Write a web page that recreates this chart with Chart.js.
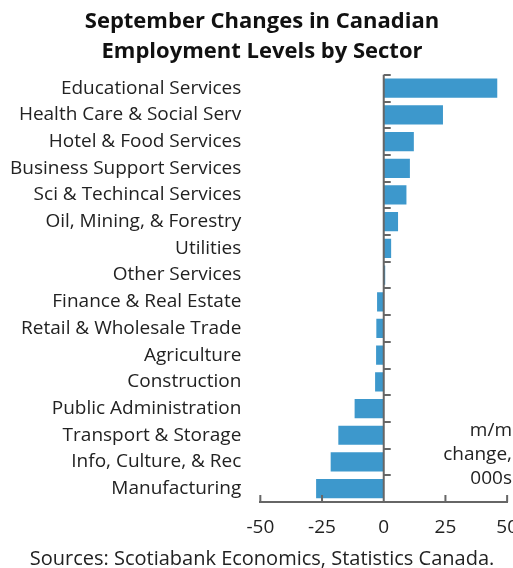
<!DOCTYPE html>
<html>
<head>
<meta charset="utf-8">
<script src="https://cdn.jsdelivr.net/npm/chart.js"></script>
<style>
  html, body { margin: 0; padding: 0; background: #fff; overflow: hidden; }
  #wrap { width: 533px; height: 568px; }
</style>
</head>
<body>
<div id="wrap"><canvas id="chart"></canvas></div>
<script>
// Sectors, top to bottom
const sectors = [
  "Educational Services", "Health Care & Social Serv", "Hotel & Food Services",
  "Business Support Services", "Sci & Techincal Services", "Oil, Mining, & Forestry",
  "Utilities", "Other Services", "Finance & Real Estate", "Retail & Wholesale Trade",
  "Agriculture", "Construction", "Public Administration", "Transport & Storage",
  "Info, Culture, & Rec", "Manufacturing"
];
// m/m change, thousands
const changes = [46, 24, 12.2, 10.6, 9.2, 5.8, 3.0, 0.6, -2.7, -3.0, -3.1, -3.5, -11.8, -18.4, -21.5, -27.4];
const xTicks = [-50, -25, 0, 25, 50];
const unitNote = ["m/m", "change,", "000s"];

const FONT = "'Open Sans', 'Noto Sans', sans-serif";
const axisColor = "#666";

// zero line, tick marks and unit note
const axisMarks = {
  id: "axisMarks",
  afterDatasetsDraw(chart) {
    const { ctx, chartArea, scales: { x, y } } = chart;
    const x0 = x.getPixelForValue(0);
    ctx.save();
    ctx.strokeStyle = axisColor;
    ctx.lineWidth = 2;
    ctx.beginPath();
    ctx.moveTo(x0, chartArea.top);
    ctx.lineTo(x0, chartArea.bottom);
    // category boundary ticks
    const band = (y.getPixelForValue(1) - y.getPixelForValue(0));
    for (let i = 0; i < sectors.length; i++) {
      const yy = Math.round(y.getPixelForValue(i) - band / 2);
      ctx.moveTo(x0, yy);
      ctx.lineTo(x0 + 7, yy);
    }
    // x ticks pointing up
    xTicks.forEach(v => {
      const xx = x.getPixelForValue(v);
      ctx.moveTo(xx, chartArea.bottom);
      ctx.lineTo(xx, chartArea.bottom - 7);
    });
    ctx.stroke();

    ctx.fillStyle = "#222";
    ctx.font = "19px " + FONT;
    ctx.textAlign = "right";
    ctx.textBaseline = "middle";
    unitNote.forEach((t, i) => ctx.fillText(t, 512, 431 + i * 24));
    ctx.restore();
  }
};

new Chart(document.getElementById("chart"), {
  type: "bar",
  data: {
    labels: sectors,
    datasets: [{
      data: changes,
      backgroundColor: "#3d98cc",
      barPercentage: 0.72,
      categoryPercentage: 1
    }]
  },
  options: {
    indexAxis: "y",
    responsive: true,
    maintainAspectRatio: false,
    animation: false,
    layout: { padding: { left: -9, right: 0, top: 0, bottom: 0 } },
    plugins: {
      legend: { display: false },
      tooltip: { enabled: false },
      title: {
        display: true,
        text: ["September Changes in Canadian", "Employment Levels by Sector"],
        color: "#111",
        font: { family: FONT, size: 22, weight: "bold", lineHeight: 1.36 },
        padding: { top: 7, bottom: 8 }
      },
      subtitle: {
        display: true,
        position: "bottom",
        text: "Sources: Scotiabank Economics, Statistics Canada.",
        color: "#222",
        font: { family: FONT, size: 20, lineHeight: 0.5 },
        padding: { top: 0, bottom: 4 }
      }
    },
    scales: {
      x: {
        min: -50,
        max: 50,
        afterBuildTicks: axis => { axis.ticks = xTicks.map(v => ({ value: v })); },
        grid: { display: false, drawTicks: false },
        border: { display: true, color: axisColor, width: 2 },
        ticks: { color: "#222", font: { family: FONT, size: 19, lineHeight: 22 / 19 }, padding: 15 }
      },
      y: {
        grid: { display: false, drawTicks: false },
        border: { display: false },
        ticks: { color: "#222", font: { family: FONT, size: 19 }, padding: 19, autoSkip: false }
      }
    }
  },
  plugins: [axisMarks]
});
</script>
</body>
</html>
